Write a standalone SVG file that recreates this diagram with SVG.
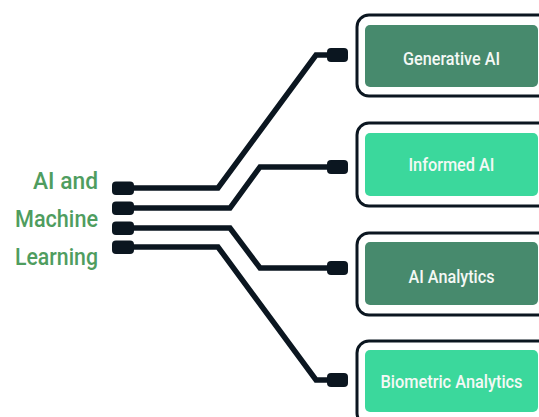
<svg xmlns="http://www.w3.org/2000/svg" width="539" height="417" viewBox="0 0 539 417">
  <style>
    .wire { fill: none; stroke: #0b1620; stroke-width: 5.5; stroke-linejoin: miter; }
    .stub { fill: #0b1620; }
    .frame { fill: #ffffff; stroke: #0b1620; stroke-width: 3; }
    .dark { fill: #478a6d; }
    .bright { fill: #3bd89c; }
    .label { font-family: Roboto, "Liberation Sans", sans-serif; font-weight: 500; font-size: 18.5px; fill: #f4f8f5; text-anchor: middle; }
    .title { font-family: Roboto, "Liberation Sans", sans-serif; font-weight: 500; font-size: 24.5px; fill: #4f9d5f; text-anchor: end; }
  </style>
  <rect width="539" height="417" fill="#ffffff"/>

  <!-- source label -->
  <g id="source">
    <text class="title" x="98" y="189" textLength="65" lengthAdjust="spacingAndGlyphs">AI and</text>
    <text class="title" x="98" y="227" textLength="83" lengthAdjust="spacingAndGlyphs">Machine</text>
    <text class="title" x="98" y="265" textLength="83" lengthAdjust="spacingAndGlyphs">Learning</text>
  </g>

  <!-- wires from the source to each box -->
  <g id="connectors">
    <polyline class="wire" points="128,188 218,188 316,55 335,55"/>
    <polyline class="wire" points="128,208 230,208 260,167 335,167"/>
    <polyline class="wire" points="128,228 230,228 260,268 335,268"/>
    <polyline class="wire" points="128,247 218,247 316,380 335,380"/>
    <rect class="stub" x="112" y="181.5" width="22" height="13.5" rx="4"/>
    <rect class="stub" x="112" y="201.5" width="22" height="13.5" rx="4"/>
    <rect class="stub" x="112" y="221.5" width="22" height="13.5" rx="4"/>
    <rect class="stub" x="112" y="240.5" width="22" height="13.5" rx="4"/>
    <rect class="stub" x="327" y="48" width="21" height="14" rx="4"/>
    <rect class="stub" x="327" y="160" width="21" height="14" rx="4"/>
    <rect class="stub" x="327" y="261" width="21" height="14" rx="4"/>
    <rect class="stub" x="327" y="373" width="21" height="14" rx="4"/>
  </g>

  <g id="generative-ai">
    <rect class="frame" x="357" y="15" width="210" height="81" rx="12"/>
    <rect class="dark" x="365" y="25" width="173" height="62" rx="5"/>
    <text class="label" x="451.5" y="65" textLength="97" lengthAdjust="spacingAndGlyphs">Generative AI</text>
  </g>

  <g id="informed-ai">
    <rect class="frame" x="357" y="123" width="210" height="83" rx="12"/>
    <rect class="bright" x="365" y="133" width="173" height="63" rx="5"/>
    <text class="label" x="451.5" y="171" textLength="86" lengthAdjust="spacingAndGlyphs">Informed AI</text>
  </g>

  <g id="ai-analytics">
    <rect class="frame" x="357" y="233" width="210" height="82" rx="12"/>
    <rect class="dark" x="365" y="242" width="173" height="63" rx="5"/>
    <text class="label" x="451.5" y="283" textLength="86" lengthAdjust="spacingAndGlyphs">AI Analytics</text>
  </g>

  <g id="biometric-analytics">
    <rect class="frame" x="357" y="341" width="210" height="84" rx="12"/>
    <rect class="bright" x="365" y="350" width="173" height="62" rx="5"/>
    <text class="label" x="451.5" y="388" textLength="142" lengthAdjust="spacingAndGlyphs">Biometric Analytics</text>
  </g>
</svg>
